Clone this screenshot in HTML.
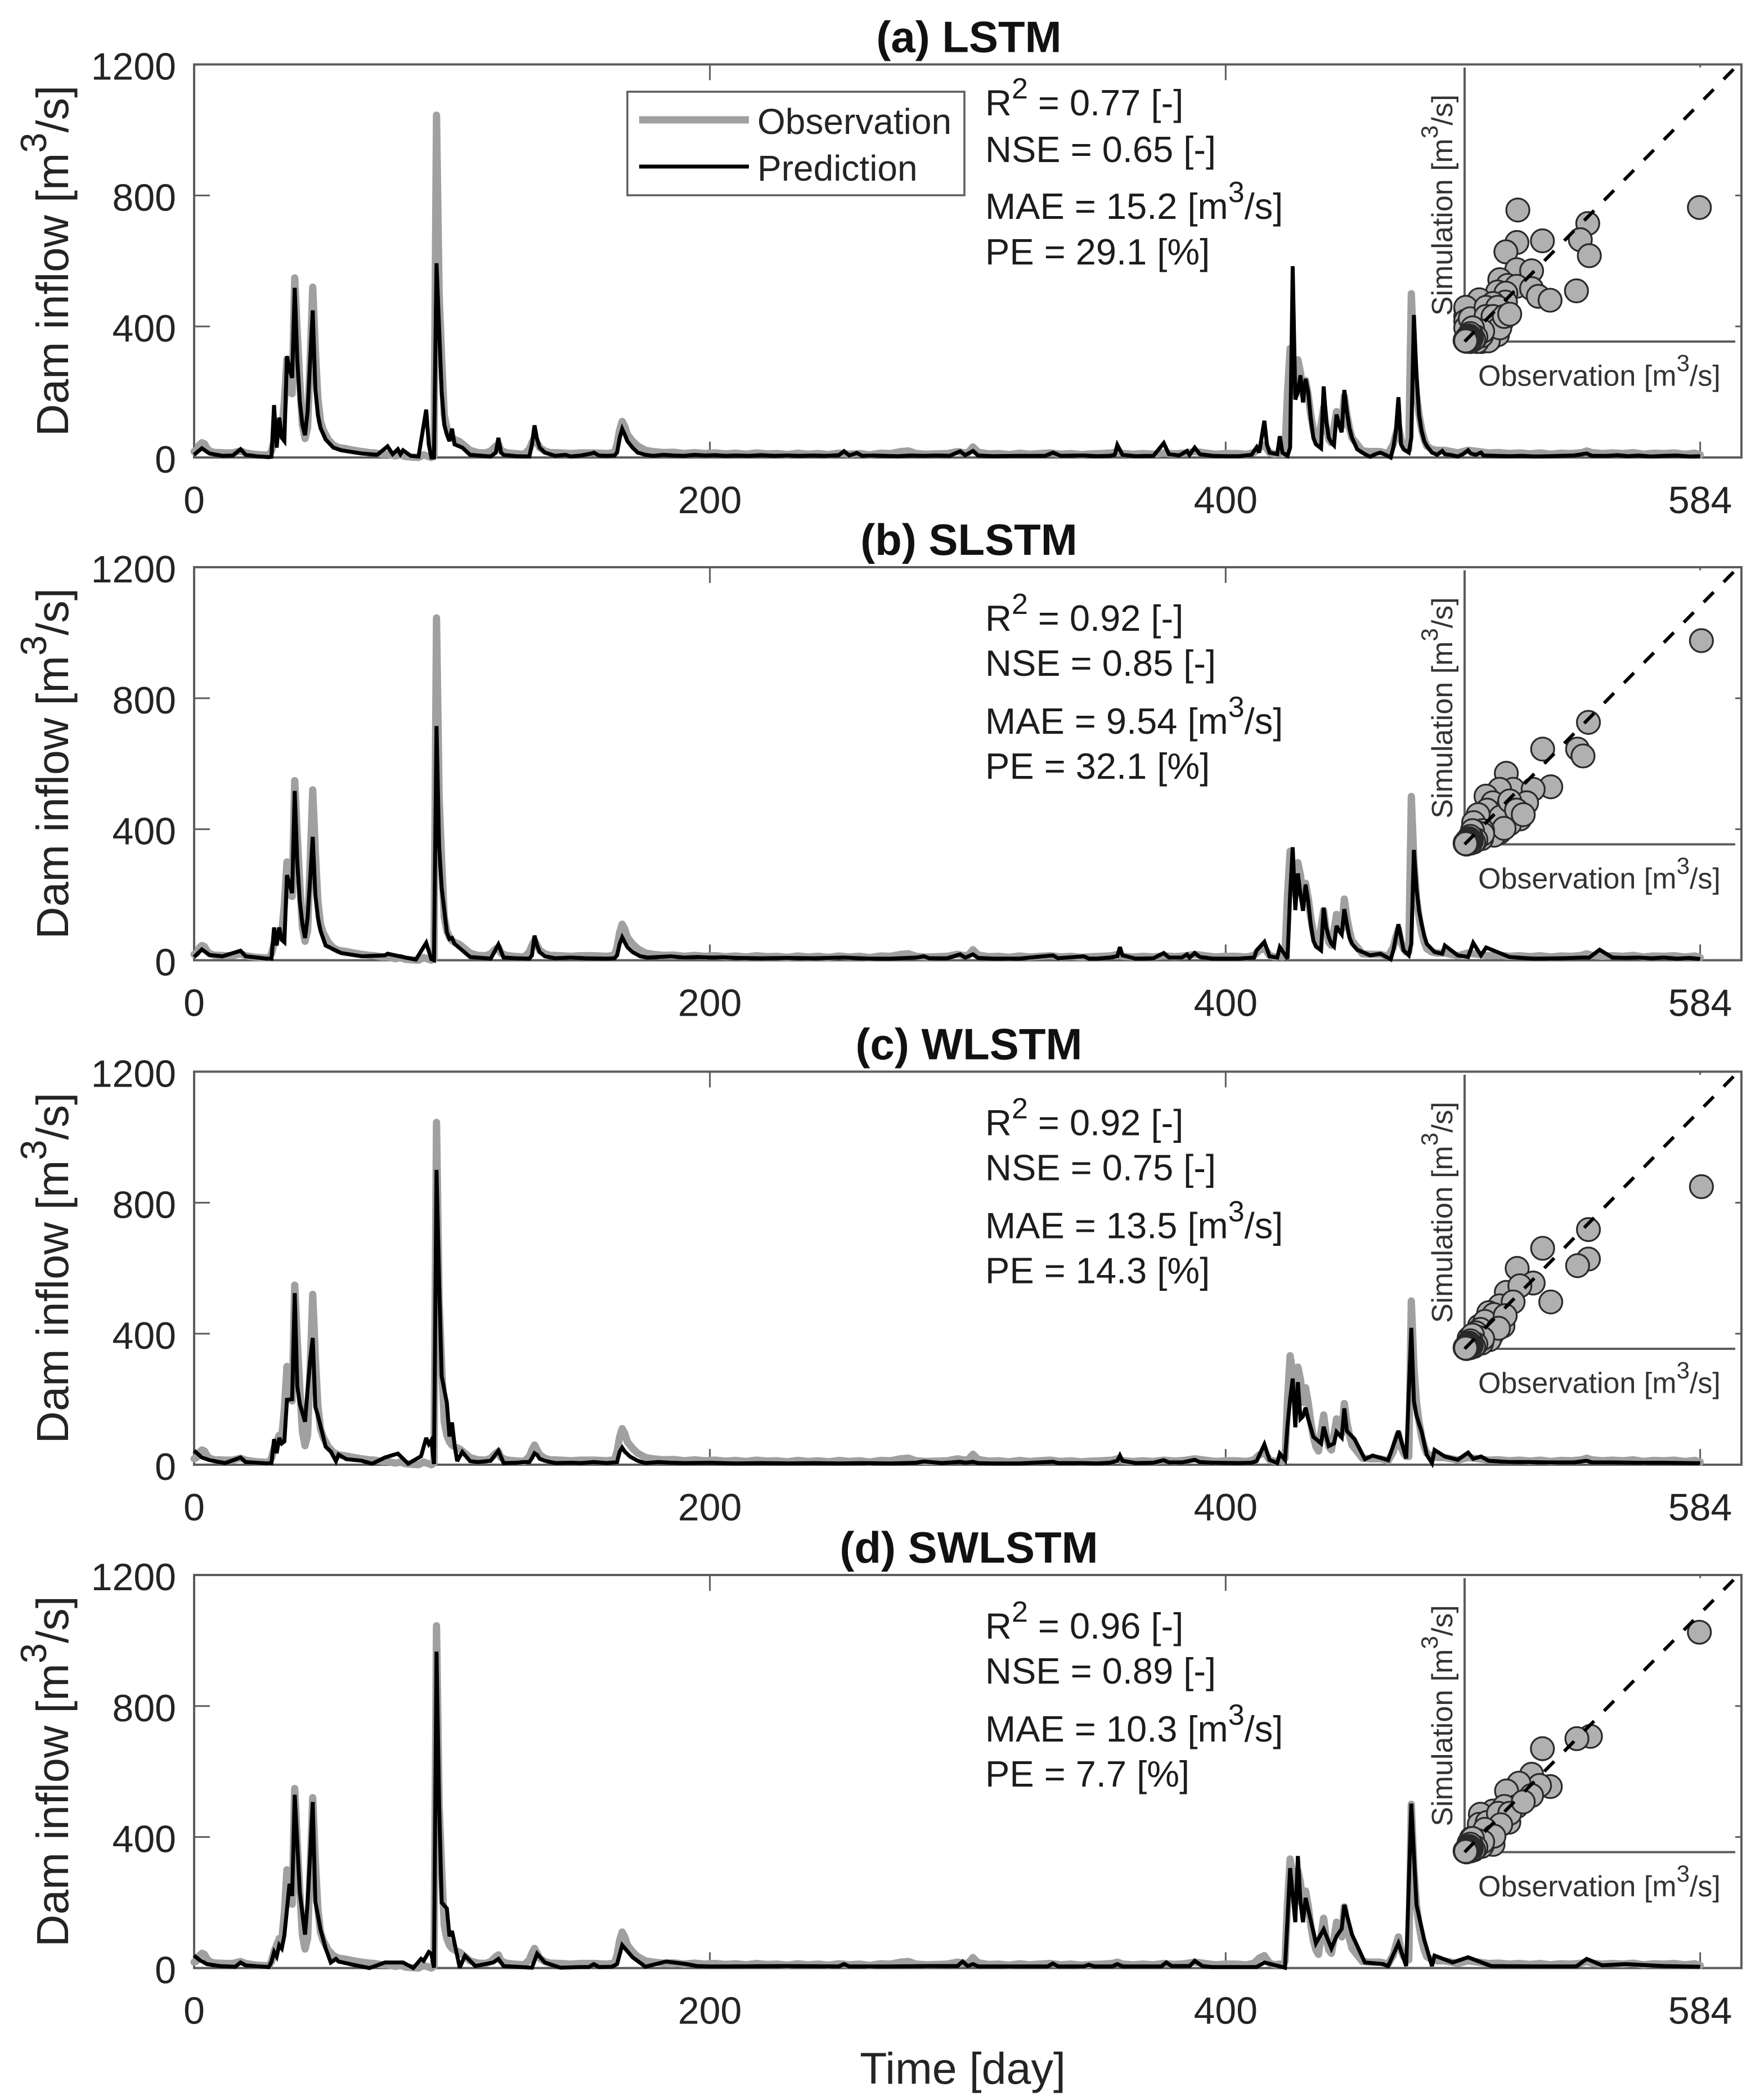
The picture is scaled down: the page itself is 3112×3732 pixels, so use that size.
<!DOCTYPE html>
<html lang="en">
<head>
<meta charset="utf-8">
<title>Dam inflow: LSTM, SLSTM, WLSTM, SWLSTM</title>
<style>
html,body{margin:0;padding:0;background:#fff}
svg{display:block}
text{font-family:"Liberation Sans",Arial,sans-serif;fill:#242424}
.title{font-size:78px;font-weight:700;text-anchor:middle;fill:#111}
.tick{font-size:68px}
.ylab{font-size:79.5px;text-anchor:middle}
.metric{font-size:65px;fill:#1c1c1c}
.leg{font-size:64px}
.ins{font-size:52px;fill:#333}
</style>
</head>
<body>
<svg id="chart" xmlns="http://www.w3.org/2000/svg" width="3112" height="3732" viewBox="0 0 3112 3732">
<rect width="3112" height="3732" fill="#fff"/>

<g id="panel-a" transform="translate(0,114.5)">
  <text class="title" x="1722" y="-22">(a) LSTM</text>
  <text class="ylab" transform="translate(121,349) rotate(-90)">Dam inflow [m<tspan font-size="65" dy="-39">3</tspan><tspan dy="39">/s]</tspan></text>
  <g>
    <rect x="1115" y="48.5" width="599" height="184" fill="#fff" stroke="#5c5c5c" stroke-width="3.5"/>
    <line x1="1136" x2="1331" y1="98.5" y2="98.5" stroke="#a0a0a0" stroke-width="13"/>
    <text class="leg" x="1346" y="123.5">Observation</text>
    <line x1="1136" x2="1331" y1="181.5" y2="181.5" stroke="#000" stroke-width="7"/>
    <text class="leg" x="1346" y="206.5">Prediction</text>
  </g>
  <text class="metric" x="1751" y="90.5">R<tspan font-size="52" dy="-30">2</tspan><tspan dy="30"> = 0.77 [-]</tspan></text>
  <text class="metric" x="1751" y="173.5">NSE = 0.65 [-]</text>
  <text class="metric" x="1751" y="274.5">MAE = 15.2 [m<tspan font-size="52" dy="-30">3</tspan><tspan dy="30">/s]</tspan></text>
  <text class="metric" x="1751" y="355.5">PE = 29.1 [%]</text>
  <g class="marks"></g>
  <text class="ins" x="2627" y="571">Observation [m<tspan font-size="42" dy="-26">3</tspan><tspan dy="26">/s]</tspan></text>
  <text class="ins" text-anchor="middle" transform="translate(2581,250) rotate(-90)">Simulation [m<tspan font-size="42" dy="-26">3</tspan><tspan dy="26">/s]</tspan></text>
</g>

<g id="panel-b" transform="translate(0,1008)">
  <text class="title" x="1722" y="-22">(b) SLSTM</text>
  <text class="ylab" transform="translate(121,349) rotate(-90)">Dam inflow [m<tspan font-size="65" dy="-39">3</tspan><tspan dy="39">/s]</tspan></text>
  <text class="metric" x="1751" y="113">R<tspan font-size="52" dy="-30">2</tspan><tspan dy="30"> = 0.92 [-]</tspan></text>
  <text class="metric" x="1751" y="193">NSE = 0.85 [-]</text>
  <text class="metric" x="1751" y="296">MAE = 9.54 [m<tspan font-size="52" dy="-30">3</tspan><tspan dy="30">/s]</tspan></text>
  <text class="metric" x="1751" y="376">PE = 32.1 [%]</text>
  <g class="marks"></g>
  <text class="ins" x="2627" y="571">Observation [m<tspan font-size="42" dy="-26">3</tspan><tspan dy="26">/s]</tspan></text>
  <text class="ins" text-anchor="middle" transform="translate(2581,250) rotate(-90)">Simulation [m<tspan font-size="42" dy="-26">3</tspan><tspan dy="26">/s]</tspan></text>
</g>

<g id="panel-c" transform="translate(0,1904.5)">
  <text class="title" x="1722" y="-22">(c) WLSTM</text>
  <text class="ylab" transform="translate(121,349) rotate(-90)">Dam inflow [m<tspan font-size="65" dy="-39">3</tspan><tspan dy="39">/s]</tspan></text>
  <text class="metric" x="1751" y="113">R<tspan font-size="52" dy="-30">2</tspan><tspan dy="30"> = 0.92 [-]</tspan></text>
  <text class="metric" x="1751" y="193">NSE = 0.75 [-]</text>
  <text class="metric" x="1751" y="296">MAE = 13.5 [m<tspan font-size="52" dy="-30">3</tspan><tspan dy="30">/s]</tspan></text>
  <text class="metric" x="1751" y="376">PE = 14.3 [%]</text>
  <g class="marks"></g>
  <text class="ins" x="2627" y="571">Observation [m<tspan font-size="42" dy="-26">3</tspan><tspan dy="26">/s]</tspan></text>
  <text class="ins" text-anchor="middle" transform="translate(2581,250) rotate(-90)">Simulation [m<tspan font-size="42" dy="-26">3</tspan><tspan dy="26">/s]</tspan></text>
</g>

<g id="panel-d" transform="translate(0,2799)">
  <text class="title" x="1722" y="-22">(d) SWLSTM</text>
  <text class="ylab" transform="translate(121,349) rotate(-90)">Dam inflow [m<tspan font-size="65" dy="-39">3</tspan><tspan dy="39">/s]</tspan></text>
  <text class="metric" x="1751" y="113">R<tspan font-size="52" dy="-30">2</tspan><tspan dy="30"> = 0.96 [-]</tspan></text>
  <text class="metric" x="1751" y="193">NSE = 0.89 [-]</text>
  <text class="metric" x="1751" y="296">MAE = 10.3 [m<tspan font-size="52" dy="-30">3</tspan><tspan dy="30">/s]</tspan></text>
  <text class="metric" x="1751" y="376">PE = 7.7 [%]</text>
  <g class="marks"></g>
  <text class="ins" x="2627" y="571">Observation [m<tspan font-size="42" dy="-26">3</tspan><tspan dy="26">/s]</tspan></text>
  <text class="ins" text-anchor="middle" transform="translate(2581,250) rotate(-90)">Simulation [m<tspan font-size="42" dy="-26">3</tspan><tspan dy="26">/s]</tspan></text>
</g>

<text x="1711" y="3703" text-anchor="middle" font-size="79">Time [day]</text>
</svg>

<script>
const xTickValues = [0, 200, 400, 584];
const yTickValues = [0, 400, 800, 1200];

const obsDays = [0,1,2,3,4,5,6,8,10,12,15,17,18,20,23,26,29,30,31,32,33,34,35,36,37,38,39,40,41,42,43,44,45,46,47,48,49,50,52,54,56,58,60,62,65,68,70,73,75,78,80,82,85,87,89,91,92,93,94,95,96,97,98,99,100,101,103,105,107,110,113,115,117,118,119,121,124,128,130,131,132,133,134,136,138,142,146,150,155,160,163,164,165,166,167,168,170,172,175,178,182,186,190,194,198,202,206,210,214,218,222,226,230,234,238,242,246,250,254,258,262,266,270,274,277,280,284,288,292,296,298,300,302,304,308,312,316,320,324,328,332,336,340,344,348,352,356,358,360,364,368,372,376,380,384,388,392,396,400,404,408,411,413,415,417,419,421,422,423,424,425,426,427,428,429,430,431,432,433,434,435,436,437,438,439,440,441,442,443,444,445,446,447,448,449,451,453,456,460,463,465,466,467,468,469,470,471,472,473,474,475,476,477,478,480,482,485,490,494,498,502,506,510,514,518,522,526,530,534,538,540,542,546,550,554,558,562,566,570,574,578,582,584];
const obsFlow = [18,22,38,45,42,28,20,15,15,14,14,18,20,14,10,8,7,20,50,70,90,85,170,300,200,195,548,380,230,100,58,90,300,520,330,180,110,85,55,38,30,28,25,22,18,15,14,10,10,5,8,3,1,0,8,3,0,5,1045,500,300,130,90,70,60,55,48,35,22,15,14,20,35,40,22,15,12,10,25,45,60,45,30,20,15,14,12,14,14,12,15,40,85,110,95,70,50,35,22,18,15,16,12,15,12,14,11,13,10,14,11,12,9,13,10,12,9,13,10,12,8,13,12,18,20,12,10,11,12,18,15,14,32,16,11,12,9,13,10,12,14,10,12,9,11,12,14,18,12,10,12,10,14,11,13,18,14,10,12,12,10,15,30,38,15,10,12,10,20,200,333,280,200,298,260,190,235,190,130,85,55,42,100,152,90,55,45,90,140,110,95,187,130,90,60,40,20,18,18,12,40,70,95,55,35,25,25,500,300,190,130,85,55,35,25,22,22,14,22,18,14,15,12,14,11,14,10,13,12,15,20,15,12,14,12,15,10,13,12,14,10,13,8];

const predADays = [0,1,3,6,11,15,18,20,25,29,30,31,32,33,34,35,36,37,38,39,40,41,42,43,44,45,46,47,48,49,51,54,57,65,71,75,77,79,80,81,84,87,90,91,92,93,94,95,96,97,98,99,100,101,104,107,115,117,118,119,120,125,130,131,132,133,134,136,140,144,146,150,154,155,157,160,163,164,165,166,167,168,170,172,175,178,182,186,190,194,198,202,206,210,215,220,225,230,235,240,245,250,252,254,257,259,263,268,273,278,283,288,293,297,299,302,304,310,320,330,333,336,345,350,355,357,358,360,365,372,376,378,382,385,386,388,390,395,400,405,410,412,413,415,416,417,420,421,422,424,425,426,427,428,429,430,431,432,433,434,435,437,438,439,440,441,442,443,444,445,446,447,448,449,451,454,456,458,460,462,464,465,466,467,468,469,471,472,473,474,475,476,477,478,480,482,484,485,487,490,492,494,495,497,499,500,505,510,515,520,525,530,535,540,542,548,552,556,560,565,570,575,580,584];
const predAFlow = [8,15,28,12,5,6,25,8,3,1,2,160,30,122,60,50,309,270,243,518,300,170,100,68,140,300,449,210,130,90,55,30,22,12,8,34,10,25,10,22,5,3,146,40,0,0,593,395,200,100,70,50,88,40,30,8,3,15,60,15,8,4,3,40,98,55,30,15,5,8,3,6,12,15,6,5,6,15,60,87,70,50,30,15,8,5,8,6,5,8,6,7,5,6,5,7,5,6,5,6,5,7,19,6,14,5,6,5,4,6,5,6,5,19,7,20,6,4,5,5,15,5,6,4,5,8,38,8,4,5,44,10,6,20,8,30,10,5,4,4,8,31,15,112,40,15,10,65,15,5,30,584,177,200,251,168,240,200,120,60,40,28,217,110,60,45,37,131,100,77,206,140,90,60,25,10,2,10,15,8,0,30,80,184,40,25,15,60,435,250,130,80,50,35,15,8,20,10,8,3,10,22,12,8,15,6,5,4,5,3,4,5,6,12,5,5,7,4,6,3,5,6,3,4];

const predBDays = [0,3,6,11,18,20,28,30,31,32,33,34,35,36,38,39,40,41,42,43,44,45,46,47,48,49,51,57,65,74,75,82,86,90,92,93,94,95,96,98,99,100,101,104,107,115,118,120,125,130,131,132,133,134,136,140,146,152,160,163,164,165,166,167,168,170,173,176,180,185,190,195,200,205,210,220,230,240,252,255,262,270,280,283,285,292,297,299,302,304,310,320,333,335,345,347,350,355,358,359,360,365,372,376,378,383,385,386,388,390,395,405,411,412,415,417,420,421,424,425,426,427,428,429,430,431,432,433,434,435,437,438,439,440,441,442,443,444,445,446,447,448,449,451,456,460,464,465,466,467,469,471,472,473,474,475,476,477,478,481,484,485,490,494,496,499,501,510,517,520,530,538,541,545,550,555,560,565,570,575,580,584];
const predBFlow = [10,33,16,12,29,12,5,5,100,45,100,62,55,260,205,517,300,180,110,68,130,250,377,200,130,90,45,22,12,15,20,8,2,53,3,0,715,350,220,85,65,68,50,30,10,5,48,8,6,5,15,75,45,25,12,6,8,6,5,6,15,50,70,55,40,25,12,8,10,12,8,10,8,9,7,6,7,6,8,7,5,5,8,12,6,6,18,8,18,7,5,5,15,6,12,5,5,8,12,40,15,5,6,22,8,8,18,8,22,10,5,5,8,30,56,12,8,40,5,200,345,153,265,200,151,231,180,110,60,42,30,160,100,70,50,42,105,90,79,156,110,70,50,32,15,20,3,30,70,110,30,15,50,337,220,150,110,75,50,25,20,45,15,10,53,15,39,10,6,5,6,8,8,32,8,7,8,6,8,5,7,4,5];

const predCDays = [0,3,6,12,18,20,28,30,31,32,33,34,35,36,38,39,40,41,43,44,45,46,47,48,51,53,55,56,59,65,69,74,79,83,88,90,91,92,93,94,95,96,98,99,100,101,102,104,107,110,115,118,120,125,128,130,131,132,133,134,136,140,146,150,155,160,164,165,166,167,169,172,175,180,185,190,200,210,220,230,240,250,260,270,280,283,290,297,299,302,304,310,320,333,335,345,350,355,358,359,360,365,372,376,378,383,385,388,390,395,405,410,412,415,417,420,421,423,424,425,426,427,428,429,430,431,432,434,437,438,440,442,443,445,446,447,450,454,457,463,467,470,472,473,474,476,478,480,481,485,490,494,496,499,502,510,517,525,535,540,542,550,560,570,580,584];
const predCFlow = [43,22,14,5,22,8,4,5,78,35,82,65,71,198,200,524,240,185,131,230,320,387,177,150,55,40,11,31,17,12,3,22,34,3,26,82,63,75,2,900,560,270,189,86,129,60,11,39,11,8,12,43,5,6,8,8,20,35,30,18,12,5,6,5,8,5,8,40,52,40,25,12,5,8,6,5,6,4,5,4,5,4,5,4,6,10,5,9,6,9,5,4,4,9,5,5,4,6,12,28,12,5,6,14,7,7,10,15,8,6,5,6,11,62,15,5,34,15,120,200,263,114,252,140,148,174,140,85,65,116,57,65,100,83,172,103,78,17,28,14,103,19,418,194,150,100,30,5,45,25,15,37,18,25,12,8,8,7,7,12,7,7,6,6,5,5];

const predDDays = [0,2,5,10,16,18,20,25,29,30,31,32,33,34,35,37,38,39,41,43,44,45,46,47,49,51,53,55,56,64,68,74,81,85,88,89,91,92,93,94,95,96,98,99,100,103,105,109,116,118,120,131,133,136,142,150,153,155,157,162,164,166,170,175,183,191,195,200,207,230,250,252,254,256,270,285,296,298,300,302,304,320,331,333,335,345,347,349,356,358,360,375,377,379,386,388,391,395,412,415,423,425,427,428,429,430,431,435,438,441,443,445,446,449,454,461,463,467,470,472,474,477,480,481,488,494,500,503,520,536,540,546,555,570,584];
const predDFlow = [38,25,12,6,4,17,8,5,3,20,49,35,70,60,100,257,220,529,230,102,200,350,507,203,118,60,17,28,20,6,0,17,17,0,28,22,49,44,1,966,500,200,182,97,113,1,38,6,17,28,6,1,44,17,1,3,3,12,3,4,12,70,33,4,20,12,6,5,5,6,5,12,5,5,5,6,6,20,6,12,5,5,5,14,5,5,10,5,5,12,5,5,17,6,6,22,6,3,3,17,1,305,140,342,200,140,214,76,118,60,97,120,193,102,17,12,6,76,6,502,193,86,6,38,17,33,15,6,5,5,28,8,12,6,4];

const denseObs = [60,75,45,80,35,50,30,40,25,30,20,18,25,15,20,12,10,15,8,14,11,9,7,10,12,8,6,4,3,6,2,8,4,5];
const denseSim = [50,25,45,45,60,20,30,10,35,15,25,20,5,10,12,3,15,8,5,12,9,11,8,8,3,5,4,6,3,2,5,1,4,3];

const scatterAObs = [1041,236,232,345,183,546,513,553,496,231,297,156,191,231,297,327,379,146,183,181,65,126,5,5,80,141,136,116,75,156,95,35,55,5,5,5,25,95,146,166,146,105,55,25,95,126,156,176,200];
const scatterASim = [587,576,434,441,393,517,446,376,222,315,310,271,246,242,232,198,181,217,212,173,183,167,144,110,91,86,42,13,0,130,71,61,42,150,90,60,100,150,150,90,30,3,0,0,110,110,60,110,120];
const scatterBObs = [1050,549,501,525,346,185,215,382,304,155,95,275,125,185,245,95,66,125,36,66,155,200,130,100,160,200,230,260,60,40,130,175,80];
const scatterBSim = [892,534,417,387,417,311,241,252,241,241,211,182,182,153,111,123,94,94,65,35,53,90,60,150,120,190,150,130,130,95,40,70,60];
const scatterCObs = [1050,549,549,501,346,233,382,185,304,245,155,107,215,143,66,95,36,120,170,80,130,90,70,50,180,110,150,40,60,20];
const scatterCSim = [710,522,393,364,440,352,205,247,288,276,188,158,205,129,100,70,53,60,100,30,150,120,85,70,145,40,90,20,25,45];
const scatterDObs = [1041,558,498,345,297,380,332,241,297,186,231,126,70,176,196,136,65,126,80,116,40,100,150,200,260,100,60,160,30,20,90,130];
const scatterDSim = [963,507,497,453,341,287,292,302,248,268,200,180,166,200,131,102,122,34,34,73,34,130,170,170,220,70,60,120,60,40,100,70];

const panelIds = ['panel-a', 'panel-b', 'panel-c', 'panel-d'];
const predDaySets = [predADays, predBDays, predCDays, predDDays];
const predFlowSets = [predAFlow, predBFlow, predCFlow, predDFlow];
const scatterObsSets = [scatterAObs, scatterBObs, scatterCObs, scatterDObs];
const scatterSimSets = [scatterASim, scatterBSim, scatterCSim, scatterDSim];

const NS = 'http://www.w3.org/2000/svg';
const plotH = 698.5;
const plotL = 345;
const plotR = 3095;
const insetL = 2603;
const insetR = 3084;
const insetB = 492.5;
const insetH = 487;
const axisColor = '#5c5c5c';

function xScale(d) { return plotL + d * (plotR - plotL) / 600; }
function yScale(v) { return plotH - v * plotH / 1200; }
function insetX(v) { return insetL + v * (insetR - insetL) / 1200; }
function insetY(v) { return insetB - v * insetH / 1200; }

function make(tag, parent, attrs) {
  const el = document.createElementNS(NS, tag);
  for (const k in attrs) el.setAttribute(k, attrs[k]);
  parent.appendChild(el);
  return el;
}

function linePath(days, flows) {
  const n = Math.min(days.length, flows.length);
  let d = '';
  for (let i = 0; i < n; i++) {
    d += (i ? 'L' : 'M') + xScale(days[i]).toFixed(1) + ' ' + yScale(flows[i]).toFixed(1);
  }
  return d;
}

panelIds.forEach(function (id, p) {
  const g = document.querySelector('#' + id + ' .marks');

  const box = make('rect', g, { x: plotL, y: 0, width: plotR - plotL, height: plotH, fill: 'none', stroke: axisColor, 'stroke-width': 4 });
  
  

  xTickValues.forEach(function (t) {
    const bottomTick = make('line', g, { x1: xScale(t), x2: xScale(t), y1: plotH, y2: plotH - 28, stroke: axisColor, 'stroke-width': 3 });
    
    
    const topTick = make('line', g, { x1: xScale(t), x2: xScale(t), y1: 0, y2: 28, stroke: axisColor, 'stroke-width': 3 });
    
    
    const label = make('text', g, { x: xScale(t), y: plotH + 99, 'text-anchor': 'middle', class: 'tick' });
    
    
    label.textContent = String(t);
  });

  yTickValues.forEach(function (t) {
    const leftTick = make('line', g, { x1: plotL, x2: plotL + 28, y1: yScale(t), y2: yScale(t), stroke: axisColor, 'stroke-width': 3 });
    
    
    const rightTick = make('line', g, { x1: plotR, x2: plotR - 28, y1: yScale(t), y2: yScale(t), stroke: axisColor, 'stroke-width': 3 });
    
    
    const label = make('text', g, { x: 313, y: yScale(t) + 27, 'text-anchor': 'end', class: 'tick' });
    
    
    label.textContent = String(t);
  });

  const obsLine = make('path', g, { d: linePath(obsDays, obsFlow), fill: 'none', stroke: '#a0a0a0', 'stroke-width': 13, 'stroke-linejoin': 'round', 'stroke-linecap': 'round' });
  
  

  const predLine = make('path', g, { d: linePath(predDaySets[p], predFlowSets[p]), fill: 'none', stroke: '#000', 'stroke-width': 7, 'stroke-linejoin': 'miter', 'stroke-miterlimit': 3 });
  
  

  const insetBg = make('rect', g, { x: insetL, y: 5.5, width: insetR - insetL, height: insetH, fill: '#fff' });
  
  

  const insetYAxis = make('line', g, { x1: insetL, x2: insetL, y1: 5.5, y2: insetB, stroke: axisColor, 'stroke-width': 4 });
  
  

  const insetXAxis = make('line', g, { x1: insetL, x2: insetR, y1: insetB, y2: insetB, stroke: axisColor, 'stroke-width': 4 });
  
  

  const sObs = scatterObsSets[p].concat(denseObs);
  const sSim = scatterSimSets[p].concat(denseSim);
  for (let i = 0; i < Math.min(sObs.length, sSim.length); i++) {
    const dot = make('circle', g, { cx: insetX(sObs[i]), cy: insetY(sSim[i]), r: 20.5, fill: '#b0b0b0', stroke: '#2a2a2a', 'stroke-width': 3.2 });
    
    
  }

  const oneToOne = make('line', g, { x1: insetX(0), y1: insetY(0), x2: insetX(1195), y2: insetY(1195), stroke: '#000', 'stroke-width': 6, 'stroke-dasharray': '25 25.4' });
  
  
});
</script>
</body>
</html>
